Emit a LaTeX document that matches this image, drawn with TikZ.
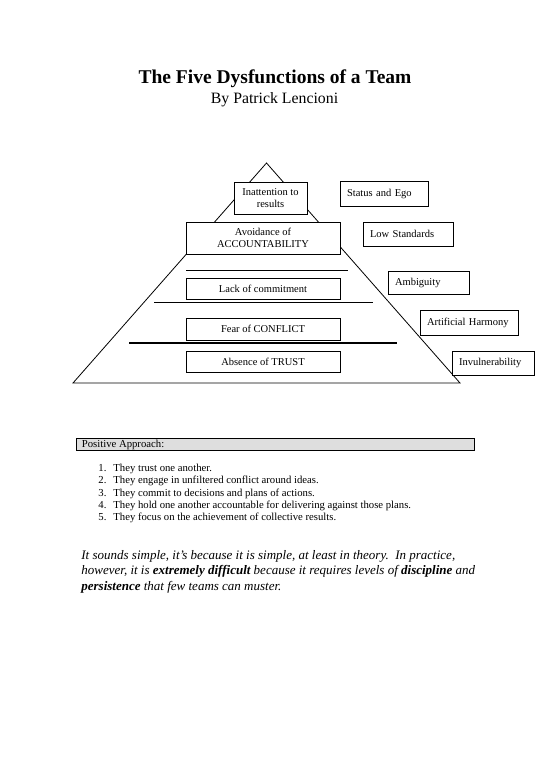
\documentclass[tikz,border=0pt]{standalone}
\usepackage{fontspec}
\setmainfont{Liberation Serif}
\begin{document}
\begin{tikzpicture}[x=1pt,y=-1pt,
  line width=0.8pt,
  boxtext/.style={font=\fontsize{10.5}{12}\selectfont},
  pbox/.style={draw, fill=white, boxtext, inner sep=0pt, align=center, minimum height=#1},
  rbox/.style={draw, fill=white, boxtext, inner xsep=7pt, inner ysep=0pt, align=left, minimum height=#1},
  listtext/.style={font=\fontsize{10.7}{12}\selectfont, anchor=base west, inner sep=0pt},
  listnum/.style={font=\fontsize{10.7}{12}\selectfont, anchor=base west, inner sep=0pt},
  para/.style={font=\fontsize{13}{15.7}\selectfont\itshape, anchor=base west, inner sep=0pt},
  tline/.style={line width=0.8pt}]
\useasboundingbox (0,0) rectangle (550,777);
\fill[white] (0,0) rectangle (550,777);

% title
\node[font=\fontsize{19.5}{22}\selectfont\bfseries, anchor=base, inner sep=0pt] (title) at (275,83) {The Five Dysfunctions of a Team};
\node[font=\fontsize{15.8}{18}\selectfont, anchor=base, inner sep=0pt] (subtitle) at (274.5,103) {By Patrick Lencioni};

% pyramid outline
\coordinate (apex) at (266.5,163);
\coordinate (bl) at (73,383);
\coordinate (br) at (460,383);
\draw[tline] (apex) -- (bl) -- (br) -- cycle;

% horizontal level lines
\coordinate (l1a) at (186,270); \coordinate (l1b) at (348,270);
\coordinate (l2a) at (154,302); \coordinate (l2b) at (373,302);
\coordinate (l3a) at (129,343); \coordinate (l3b) at (397,343);
\draw[tline] (l1a) -- (l1b);
\draw[tline] (l2a) -- (l2b);
\draw[line width=1.6pt] (l3a) -- (l3b);

% pyramid boxes
\node[pbox=32, minimum width=73] (results) at (270.5,198) {Inattention to\\results};
\node[pbox=32, minimum width=154] (account) at (263,238) {Avoidance of\\ACCOUNTABILITY};
\node[pbox=21, minimum width=154] (commit) at (263,288.5) {Lack of commitment};
\node[pbox=22, minimum width=154] (conflict) at (263,329) {Fear of CONFLICT};
\node[pbox=21, minimum width=154] (trust) at (263,361.5) {Absence of TRUST};

% side boxes
\node[rbox=25, text width=74] (ego) at (384,193.5) {Status and Ego};
\node[rbox=24, text width=76] (standards) at (408,234) {Low Standards};
\node[rbox=23, text width=67] (ambiguity) at (428.5,282.5) {Ambiguity};
\node[rbox=25, text width=84] (harmony) at (469,322.5) {Artificial Harmony};
\node[rbox=24, text width=68] (invuln) at (493,363) {Invulnerability};

% positive approach
\node[draw, fill=black!13, line width=0.8pt, minimum width=398, minimum height=12, inner sep=0pt] (posbox) at (275,444) {};
\node[font=\fontsize{10.7}{12}\selectfont, anchor=base west, inner sep=0pt] (postext) at (81.5,447.3) {Positive Approach:};

\node[listnum] (n1) at (98,471.5) {1.};
\node[listtext] (t1) at (113,471.5) {They trust one another.};
\node[listnum] (n2) at (98,483.8) {2.};
\node[listtext] (t2) at (113,483.8) {They engage in unfiltered conflict around ideas.};
\node[listnum] (n3) at (98,496) {3.};
\node[listtext] (t3) at (113,496) {They commit to decisions and plans of actions.};
\node[listnum] (n4) at (98,508.3) {4.};
\node[listtext] (t4) at (113,508.3) {They hold one another accountable for delivering against those plans.};
\node[listnum] (n5) at (98,520.5) {5.};
\node[listtext] (t5) at (113,520.5) {They focus on the achievement of collective results.};

% closing paragraph
\node[para] (p1) at (81,559) {It sounds simple, it’s because it is simple, at least in theory.\ \ In practice,};
\node[para] (p2) at (81,574.7) {however, it is \textbf{extremely difficult} because it requires levels of \textbf{discipline} and};
\node[para] (p3) at (81,590.4) {\textbf{persistence} that few teams can muster.};
\end{tikzpicture}
\end{document}
